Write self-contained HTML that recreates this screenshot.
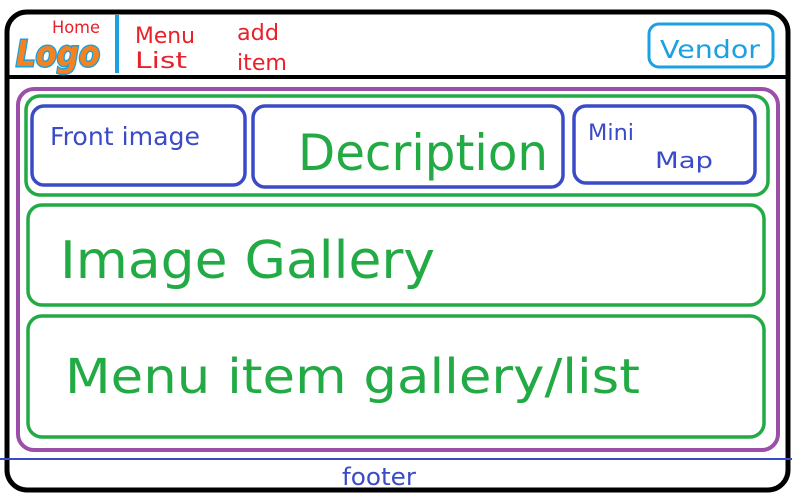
<!DOCTYPE html>
<html><head><style>
html,body{margin:0;padding:0;background:#fff;width:800px;height:500px;overflow:hidden}
svg{display:block}
text{font-family:"DejaVu Sans","Liberation Sans",sans-serif}
</style></head><body>
<svg width="800" height="500" viewBox="0 0 800 500" xmlns="http://www.w3.org/2000/svg">
<rect x="7" y="12" width="781" height="478" rx="20" fill="#fff" stroke="#000" stroke-width="5"/>
<line x1="5" y1="77" x2="790" y2="77" stroke="#000" stroke-width="4"/>
<line x1="117" y1="15" x2="117" y2="73" stroke="#1ba1e2" stroke-width="4"/>
<text x="16" y="66" font-size="36" font-weight="bold" fill="#f5821f" stroke="#1ba1e2" stroke-width="3" paint-order="stroke" font-style="italic" textLength="84" lengthAdjust="spacingAndGlyphs">Logo</text>
<text x="52" y="33" font-size="17" fill="#e8202a" textLength="48" lengthAdjust="spacingAndGlyphs">Home</text>
<text x="135" y="43" font-size="22" fill="#e8202a" textLength="60" lengthAdjust="spacingAndGlyphs">Menu</text>
<text x="135" y="68" font-size="22" fill="#e8202a" textLength="52" lengthAdjust="spacingAndGlyphs">List</text>
<text x="237" y="40" font-size="22" fill="#e8202a" textLength="42" lengthAdjust="spacingAndGlyphs">add</text>
<text x="237" y="70" font-size="22" fill="#e8202a" textLength="50" lengthAdjust="spacingAndGlyphs">item</text>
<rect x="649" y="24" width="124" height="43" rx="10" fill="none" stroke="#1ba1e2" stroke-width="3"/>
<text x="660" y="58" font-size="25" fill="#1ba1e2" textLength="100" lengthAdjust="spacingAndGlyphs">Vendor</text>
<rect x="18" y="89" width="760" height="361" rx="16" fill="none" stroke="#9b4fa8" stroke-width="4"/>
<rect x="26" y="96" width="742" height="99" rx="14" fill="none" stroke="#22aa44" stroke-width="3.5"/>
<rect x="28" y="205" width="736" height="100" rx="14" fill="none" stroke="#22aa44" stroke-width="3.5"/>
<rect x="28" y="316" width="736" height="121" rx="14" fill="none" stroke="#22aa44" stroke-width="3.5"/>
<rect x="32" y="106" width="213" height="79" rx="12" fill="none" stroke="#3b4bc8" stroke-width="3.5"/>
<rect x="253" y="106" width="310" height="81" rx="12" fill="none" stroke="#3b4bc8" stroke-width="3.5"/>
<rect x="574" y="106" width="181" height="77" rx="12" fill="none" stroke="#3b4bc8" stroke-width="3.5"/>
<text x="50" y="145" font-size="25" fill="#3b4bc8" textLength="150" lengthAdjust="spacingAndGlyphs">Front image</text>
<text x="298" y="170" font-size="50" fill="#22aa44" textLength="250" lengthAdjust="spacingAndGlyphs">Decription</text>
<text x="588" y="140" font-size="22" fill="#3b4bc8" textLength="46" lengthAdjust="spacingAndGlyphs">Mini</text>
<text x="655" y="168" font-size="22" fill="#3b4bc8" textLength="58" lengthAdjust="spacingAndGlyphs">Map</text>
<text x="60" y="278" font-size="52" fill="#22aa44" textLength="375" lengthAdjust="spacingAndGlyphs">Image Gallery</text>
<text x="65" y="393" font-size="48" fill="#22aa44" textLength="575" lengthAdjust="spacingAndGlyphs">Menu  item gallery/list</text>
<line x1="0" y1="459" x2="792" y2="459" stroke="#3b4bc8" stroke-width="2"/>
<text x="342" y="485" font-size="24" fill="#3b4bc8" textLength="74" lengthAdjust="spacingAndGlyphs">footer</text>
</svg>
</body></html>
